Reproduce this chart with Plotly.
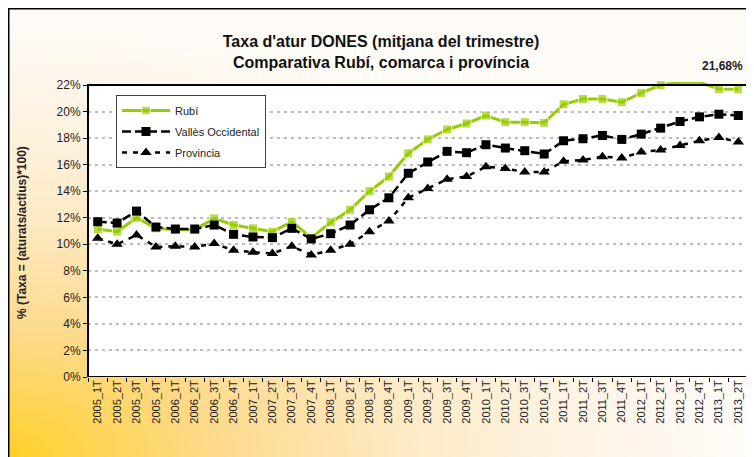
import base64
import plotly.graph_objects as go

categories = ["2005_1T", "2005_2T", "2005_3T", "2005_4T",
              "2006_1T", "2006_2T", "2006_3T", "2006_4T",
              "2007_1T", "2007_2T", "2007_3T", "2007_4T",
              "2008_1T", "2008_2T", "2008_3T", "2008_4T",
              "2009_1T", "2009_2T", "2009_3T", "2009_4T",
              "2010_1T", "2010_2T", "2010_3T", "2010_4T",
              "2011_1T", "2011_2T", "2011_3T", "2011_4T",
              "2012_1T", "2012_2T", "2012_3T", "2012_4T",
              "2013_1T", "2013_2T"]

rubi = [11.15, 10.95, 12.0, 11.2,
        11.1, 11.1, 11.95, 11.45,
        11.2, 10.95, 11.7, 10.5,
        11.65, 12.6, 14.0, 15.1,
        16.85, 17.9, 18.65, 19.1,
        19.7, 19.2, 19.2, 19.15,
        20.55, 20.95, 20.95, 20.7,
        21.4, 22.0, 22.2, 22.2,
        21.7, 21.68]

valles = [11.7, 11.6, 12.5, 11.3,
          11.15, 11.15, 11.45, 10.75,
          10.55, 10.5, 11.2, 10.4,
          10.8, 11.45, 12.6, 13.5,
          15.35, 16.2, 17.0, 16.9,
          17.5, 17.25, 17.05, 16.8,
          17.8, 17.95, 18.2, 17.9,
          18.3, 18.75, 19.25, 19.6,
          19.8, 19.7]

provincia = [10.45, 10.0, 10.7, 9.8,
             9.85, 9.8, 10.05, 9.55,
             9.4, 9.3, 9.85, 9.2,
             9.55, 10.0, 10.95, 11.75,
             13.5, 14.2, 14.9, 15.1,
             15.85, 15.7, 15.45, 15.45,
             16.25, 16.35, 16.6, 16.5,
             16.95, 17.1, 17.45, 17.8,
             18.05, 17.7]

y_ticks = [0, 2, 4, 6, 8, 10, 12, 14, 16, 18, 20, 22]
y_tick_labels = ["0%", "2%", "4%", "6%", "8%", "10%", "12%", "14%", "16%", "18%", "20%", "22%"]

y_max = 22
last_label = "21,68%"

# page body margin offsets the figure by 8px in the screenshot
OFF = 8
W, H = 754 - OFF, 457 - OFF
FRAME_H = 292                      # pixel height of the 0..22% frame
EXTRA_PX = 3                       # room above the frame for the overshooting line
y_top = y_max + EXTRA_PX * y_max / FRAME_H
ML, MR, MB = 88 - OFF, 6, 80
MT = 85 - OFF - EXTRA_PX
PW, PH = W - ML - MR, H - MT - MB

FONT = "Arial, Liberation Sans, sans-serif"

svg = f'''<svg xmlns="http://www.w3.org/2000/svg" width="{W}" height="{H}" viewBox="0 0 {W} {H}" preserveAspectRatio="none">
<defs><radialGradient id="g" cx="0" cy="1" r="1" gradientUnits="objectBoundingBox">
<stop offset="0" stop-color="#FFD02A"/>
<stop offset="0.28" stop-color="#FDDA8C"/>
<stop offset="0.55" stop-color="#FDEBC8"/>
<stop offset="0.8" stop-color="#FEF5E8"/>
<stop offset="1" stop-color="#FFFCF8"/>
</radialGradient></defs>
<rect x="0" y="0" width="{W}" height="{H}" fill="url(#g)"/>
</svg>'''
src = "data:image/svg+xml;base64," + base64.b64encode(svg.encode()).decode()


def fx(px):  # screen x -> paper x
    return (px - OFF - ML) / PW


def fy(py):  # screen y -> paper y
    return (H - MB - (py - OFF)) / PH


fig = go.Figure()

rubi_sizes = [0 if v > y_max else 9 for v in rubi]

fig.add_trace(go.Scatter(
    x=categories, y=rubi, name="Rubí", mode="lines+markers",
    line=dict(color="#99CC00", width=3),
    marker=dict(symbol="square", size=rubi_sizes, color="#99CC00"),
    cliponaxis=False, legendgroup="a"))
fig.add_trace(go.Scatter(
    x=categories, y=valles, name="Vallès Occidental", mode="lines+markers",
    line=dict(color="#000000", width=2.5, dash="9px,4px"),
    marker=dict(symbol="square", size=9, color="#000000"),
    legendgroup="b"))
fig.add_trace(go.Scatter(
    x=categories, y=provincia, name="Provincia", mode="lines+markers",
    line=dict(color="#000000", width=2.5, dash="5px,6px"),
    marker=dict(symbol="triangle-up", size=10, color="#000000"),
    legendgroup="c"))

fig.add_annotation(x=categories[-1], y=rubi[-1], text=f"<b>{last_label}</b>",
                   showarrow=False, xshift=-16, yshift=23,
                   font=dict(family=FONT, size=12, color="#222"))

fig.add_annotation(xref="paper", yref="paper", x=fx(22), y=fy(233),
                   xanchor="center", yanchor="middle",
                   text="<b>% (Taxa = (aturats/actius)*100)</b>", textangle=-90,
                   showarrow=False, font=dict(family=FONT, size=12, color="#222"))

fig.add_layout_image(dict(source=src, xref="paper", yref="paper",
                          x=-ML / PW, y=1 + MT / PH, sizex=W / PW, sizey=H / PH,
                          xanchor="left", yanchor="top", sizing="stretch", layer="below"))

# white plot area (0..22%)
fig.add_shape(type="rect", xref="paper", yref="y", x0=0, y0=0, x1=1, y1=y_max,
              fillcolor="#FFFFFF", line=dict(width=0), layer="below")
# plot-area frame
fig.add_shape(type="rect", xref="paper", yref="y", x0=0, y0=0, x1=1, y1=y_max,
              line=dict(color="#000000", width=2), layer="above")
# outer chart frame
fig.add_shape(type="rect", xref="paper", yref="paper",
              x0=-(ML - 0.75) / PW, y0=-(MB + 20) / PH, x1=1 + (MR + 20) / PW, y1=1 + (MT - 0.75) / PH,
              line=dict(color="#000000", width=1.5), layer="below")

fig.update_layout(
    width=W, height=H,
    margin=dict(l=ML, r=MR, t=MT, b=MB),
    paper_bgcolor="#FFFFFF", plot_bgcolor="rgba(0,0,0,0)",
    font=dict(family=FONT, size=11, color="#222"),
    title=dict(text="<b>Taxa d'atur DONES (mitjana del trimestre)<br>Comparativa Rubí, comarca i província</b>",
               x=(381 - OFF) / W, xanchor="center", y=1 - (47 - OFF) / H, yanchor="middle",
               xref="container", yref="container",
               font=dict(family=FONT, size=16, color="#111")),
    showlegend=True,
    legend=dict(x=fx(116), y=fy(95), xanchor="left", yanchor="top",
                bgcolor="#FFFFFF", bordercolor="#404040", borderwidth=1,
                font=dict(family=FONT, size=11, color="#222"),
                tracegroupgap=2, itemwidth=48),
)

fig.update_xaxes(type="category", range=[-0.5, len(categories) - 0.5],
                 tickangle=-90, ticks="outside", tickson="boundaries", ticklen=4,
                 tickcolor="#000", showline=False, showgrid=False,
                 tickfont=dict(family=FONT, size=11, color="#222"))
fig.update_yaxes(range=[0, y_top], tickmode="array", tickvals=y_ticks, ticktext=y_tick_labels,
                 ticks="outside", ticklen=4, tickcolor="#000", showline=False,
                 showgrid=True, gridcolor="#BDBDBD", gridwidth=1.5,
                 griddash="3px,4px", zeroline=False,
                 tickfont=dict(family=FONT, size=12, color="#222"))

fig.write_html("out.html")
